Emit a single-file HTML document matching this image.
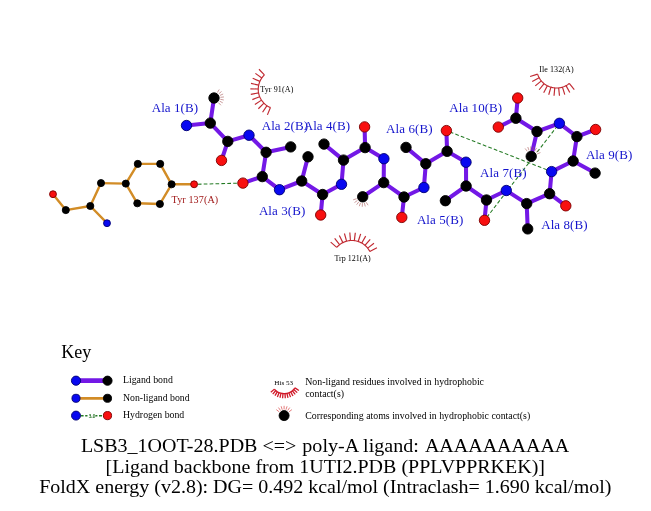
<!DOCTYPE html>
<html><head><meta charset="utf-8"><title>LigPlot</title>
<style>html,body{margin:0;padding:0;background:#fff;}svg{will-change:transform;}body{width:651px;height:511px;overflow:hidden;font-family:"Liberation Serif",serif;}</style>
</head><body>
<svg width="651" height="511" viewBox="0 0 651 511" style="display:block">
<rect width="651" height="511" fill="#fff"/>
<g font-family="'Liberation Serif', serif">
<line x1="53.0" y1="194.2" x2="65.8" y2="210.1" stroke="#d28c26" stroke-width="2.4" stroke-linecap="round" />
<line x1="65.8" y1="210.1" x2="90.3" y2="206.0" stroke="#d28c26" stroke-width="2.4" stroke-linecap="round" />
<line x1="90.3" y1="206.0" x2="107.0" y2="223.2" stroke="#d28c26" stroke-width="2.4" stroke-linecap="round" />
<line x1="90.3" y1="206.0" x2="101.0" y2="183.1" stroke="#d28c26" stroke-width="2.4" stroke-linecap="round" />
<line x1="101.0" y1="183.1" x2="125.8" y2="183.6" stroke="#d28c26" stroke-width="2.4" stroke-linecap="round" />
<line x1="125.8" y1="183.6" x2="137.8" y2="163.9" stroke="#d28c26" stroke-width="2.4" stroke-linecap="round" />
<line x1="137.8" y1="163.9" x2="160.2" y2="163.9" stroke="#d28c26" stroke-width="2.4" stroke-linecap="round" />
<line x1="160.2" y1="163.9" x2="171.6" y2="184.3" stroke="#d28c26" stroke-width="2.4" stroke-linecap="round" />
<line x1="171.6" y1="184.3" x2="159.9" y2="204.0" stroke="#d28c26" stroke-width="2.4" stroke-linecap="round" />
<line x1="159.9" y1="204.0" x2="137.3" y2="203.3" stroke="#d28c26" stroke-width="2.4" stroke-linecap="round" />
<line x1="137.3" y1="203.3" x2="125.8" y2="183.6" stroke="#d28c26" stroke-width="2.4" stroke-linecap="round" />
<line x1="171.6" y1="184.3" x2="194.1" y2="184.3" stroke="#d28c26" stroke-width="2.4" stroke-linecap="round" />
<line x1="186.5" y1="125.5" x2="210.3" y2="123.1" stroke="#7318e6" stroke-width="4.05" stroke-linecap="round" />
<line x1="210.3" y1="123.1" x2="214.0" y2="98.0" stroke="#7318e6" stroke-width="4.05" stroke-linecap="round" />
<line x1="210.3" y1="123.1" x2="227.8" y2="141.4" stroke="#7318e6" stroke-width="4.05" stroke-linecap="round" />
<line x1="227.8" y1="141.4" x2="221.5" y2="160.4" stroke="#7318e6" stroke-width="4.05" stroke-linecap="round" />
<line x1="227.8" y1="141.4" x2="249.0" y2="135.2" stroke="#7318e6" stroke-width="4.05" stroke-linecap="round" />
<line x1="249.0" y1="135.2" x2="266.1" y2="152.3" stroke="#7318e6" stroke-width="4.05" stroke-linecap="round" />
<line x1="266.1" y1="152.3" x2="290.7" y2="146.9" stroke="#7318e6" stroke-width="4.05" stroke-linecap="round" />
<line x1="266.1" y1="152.3" x2="262.3" y2="176.6" stroke="#7318e6" stroke-width="4.05" stroke-linecap="round" />
<line x1="262.3" y1="176.6" x2="242.9" y2="183.1" stroke="#7318e6" stroke-width="4.05" stroke-linecap="round" />
<line x1="262.3" y1="176.6" x2="279.5" y2="189.7" stroke="#7318e6" stroke-width="4.05" stroke-linecap="round" />
<line x1="279.5" y1="189.7" x2="301.7" y2="181.0" stroke="#7318e6" stroke-width="4.05" stroke-linecap="round" />
<line x1="301.7" y1="181.0" x2="308.0" y2="156.8" stroke="#7318e6" stroke-width="4.05" stroke-linecap="round" />
<line x1="301.7" y1="181.0" x2="322.6" y2="194.5" stroke="#7318e6" stroke-width="4.05" stroke-linecap="round" />
<line x1="322.6" y1="194.5" x2="320.7" y2="215.0" stroke="#7318e6" stroke-width="4.05" stroke-linecap="round" />
<line x1="322.6" y1="194.5" x2="341.5" y2="184.3" stroke="#7318e6" stroke-width="4.05" stroke-linecap="round" />
<line x1="341.5" y1="184.3" x2="343.5" y2="160.1" stroke="#7318e6" stroke-width="4.05" stroke-linecap="round" />
<line x1="343.5" y1="160.1" x2="324.0" y2="144.1" stroke="#7318e6" stroke-width="4.05" stroke-linecap="round" />
<line x1="343.5" y1="160.1" x2="365.1" y2="147.6" stroke="#7318e6" stroke-width="4.05" stroke-linecap="round" />
<line x1="365.1" y1="147.6" x2="364.6" y2="126.9" stroke="#7318e6" stroke-width="4.05" stroke-linecap="round" />
<line x1="365.1" y1="147.6" x2="383.9" y2="158.7" stroke="#7318e6" stroke-width="4.05" stroke-linecap="round" />
<line x1="383.9" y1="158.7" x2="383.7" y2="182.6" stroke="#7318e6" stroke-width="4.05" stroke-linecap="round" />
<line x1="383.7" y1="182.6" x2="362.7" y2="196.8" stroke="#7318e6" stroke-width="4.05" stroke-linecap="round" />
<line x1="383.7" y1="182.6" x2="404.0" y2="197.0" stroke="#7318e6" stroke-width="4.05" stroke-linecap="round" />
<line x1="404.0" y1="197.0" x2="401.8" y2="217.4" stroke="#7318e6" stroke-width="4.05" stroke-linecap="round" />
<line x1="404.0" y1="197.0" x2="423.9" y2="187.5" stroke="#7318e6" stroke-width="4.05" stroke-linecap="round" />
<line x1="423.9" y1="187.5" x2="425.8" y2="163.7" stroke="#7318e6" stroke-width="4.05" stroke-linecap="round" />
<line x1="425.8" y1="163.7" x2="406.0" y2="147.4" stroke="#7318e6" stroke-width="4.05" stroke-linecap="round" />
<line x1="425.8" y1="163.7" x2="447.1" y2="151.3" stroke="#7318e6" stroke-width="4.05" stroke-linecap="round" />
<line x1="447.1" y1="151.3" x2="446.4" y2="130.6" stroke="#7318e6" stroke-width="4.05" stroke-linecap="round" />
<line x1="447.1" y1="151.3" x2="466.0" y2="162.2" stroke="#7318e6" stroke-width="4.05" stroke-linecap="round" />
<line x1="466.0" y1="162.2" x2="466.1" y2="186.0" stroke="#7318e6" stroke-width="4.05" stroke-linecap="round" />
<line x1="466.1" y1="186.0" x2="445.4" y2="200.7" stroke="#7318e6" stroke-width="4.05" stroke-linecap="round" />
<line x1="466.1" y1="186.0" x2="486.5" y2="200.0" stroke="#7318e6" stroke-width="4.05" stroke-linecap="round" />
<line x1="486.5" y1="200.0" x2="484.5" y2="220.3" stroke="#7318e6" stroke-width="4.05" stroke-linecap="round" />
<line x1="486.5" y1="200.0" x2="506.3" y2="190.5" stroke="#7318e6" stroke-width="4.05" stroke-linecap="round" />
<line x1="506.3" y1="190.5" x2="526.7" y2="203.6" stroke="#7318e6" stroke-width="4.05" stroke-linecap="round" />
<line x1="526.7" y1="203.6" x2="527.7" y2="228.9" stroke="#7318e6" stroke-width="4.05" stroke-linecap="round" />
<line x1="526.7" y1="203.6" x2="549.6" y2="193.7" stroke="#7318e6" stroke-width="4.05" stroke-linecap="round" />
<line x1="549.6" y1="193.7" x2="565.8" y2="205.8" stroke="#7318e6" stroke-width="4.05" stroke-linecap="round" />
<line x1="549.6" y1="193.7" x2="551.6" y2="171.6" stroke="#7318e6" stroke-width="4.05" stroke-linecap="round" />
<line x1="551.6" y1="171.6" x2="573.1" y2="161.0" stroke="#7318e6" stroke-width="4.05" stroke-linecap="round" />
<line x1="573.1" y1="161.0" x2="595.1" y2="173.1" stroke="#7318e6" stroke-width="4.05" stroke-linecap="round" />
<line x1="573.1" y1="161.0" x2="576.9" y2="136.6" stroke="#7318e6" stroke-width="4.05" stroke-linecap="round" />
<line x1="576.9" y1="136.6" x2="595.6" y2="129.5" stroke="#7318e6" stroke-width="4.05" stroke-linecap="round" />
<line x1="576.9" y1="136.6" x2="559.4" y2="123.3" stroke="#7318e6" stroke-width="4.05" stroke-linecap="round" />
<line x1="559.4" y1="123.3" x2="537.0" y2="131.5" stroke="#7318e6" stroke-width="4.05" stroke-linecap="round" />
<line x1="537.0" y1="131.5" x2="531.2" y2="156.4" stroke="#7318e6" stroke-width="4.05" stroke-linecap="round" />
<line x1="537.0" y1="131.5" x2="515.9" y2="118.2" stroke="#7318e6" stroke-width="4.05" stroke-linecap="round" />
<line x1="515.9" y1="118.2" x2="498.3" y2="127.1" stroke="#7318e6" stroke-width="4.05" stroke-linecap="round" />
<line x1="515.9" y1="118.2" x2="517.7" y2="98.0" stroke="#7318e6" stroke-width="4.05" stroke-linecap="round" />
<line x1="194.1" y1="184.3" x2="242.9" y2="183.1" stroke="#237a23" stroke-width="1.05" stroke-linecap="round" stroke-dasharray="3.7 2.2" stroke-dashoffset="2.2" style="stroke-linecap:butt"/>
<line x1="446.4" y1="130.6" x2="551.6" y2="171.6" stroke="#237a23" stroke-width="1.05" stroke-linecap="round" stroke-dasharray="3.7 2.2" stroke-dashoffset="2.2" style="stroke-linecap:butt"/>
<line x1="484.5" y1="220.3" x2="559.4" y2="123.3" stroke="#237a23" stroke-width="1.05" stroke-linecap="round" stroke-dasharray="3.7 2.2" stroke-dashoffset="2.2" style="stroke-linecap:butt"/>
<line x1="217.34" y1="92.54" x2="219.22" y2="89.47" stroke="#a85a5a" stroke-width="0.6"/>
<line x1="218.83" y1="93.80" x2="221.55" y2="91.44" stroke="#a85a5a" stroke-width="0.6"/>
<line x1="219.87" y1="95.45" x2="223.17" y2="94.01" stroke="#a85a5a" stroke-width="0.6"/>
<line x1="220.36" y1="97.33" x2="223.95" y2="96.95" stroke="#a85a5a" stroke-width="0.6"/>
<line x1="220.27" y1="99.28" x2="223.80" y2="99.99" stroke="#a85a5a" stroke-width="0.6"/>
<line x1="219.60" y1="101.10" x2="222.75" y2="102.85" stroke="#a85a5a" stroke-width="0.6"/>
<line x1="218.41" y1="102.64" x2="220.88" y2="105.25" stroke="#a85a5a" stroke-width="0.6"/>
<line x1="366.14" y1="202.20" x2="368.07" y2="205.23" stroke="#a85a5a" stroke-width="0.6"/>
<line x1="364.36" y1="202.98" x2="365.29" y2="206.46" stroke="#a85a5a" stroke-width="0.6"/>
<line x1="362.42" y1="203.19" x2="362.26" y2="206.79" stroke="#a85a5a" stroke-width="0.6"/>
<line x1="360.51" y1="202.81" x2="359.28" y2="206.20" stroke="#a85a5a" stroke-width="0.6"/>
<line x1="358.80" y1="201.88" x2="356.61" y2="204.73" stroke="#a85a5a" stroke-width="0.6"/>
<line x1="357.46" y1="200.47" x2="354.51" y2="202.54" stroke="#a85a5a" stroke-width="0.6"/>
<line x1="356.60" y1="198.72" x2="353.16" y2="199.81" stroke="#a85a5a" stroke-width="0.6"/>
<line x1="527.30" y1="151.32" x2="525.11" y2="148.47" stroke="#a85a5a" stroke-width="0.6"/>
<line x1="529.01" y1="150.39" x2="527.78" y2="147.00" stroke="#a85a5a" stroke-width="0.6"/>
<line x1="530.92" y1="150.01" x2="530.76" y2="146.41" stroke="#a85a5a" stroke-width="0.6"/>
<line x1="532.86" y1="150.22" x2="533.79" y2="146.74" stroke="#a85a5a" stroke-width="0.6"/>
<line x1="534.64" y1="151.00" x2="536.57" y2="147.97" stroke="#a85a5a" stroke-width="0.6"/>
<line x1="536.10" y1="152.29" x2="538.86" y2="149.97" stroke="#a85a5a" stroke-width="0.6"/>
<line x1="537.11" y1="153.95" x2="540.44" y2="152.57" stroke="#a85a5a" stroke-width="0.6"/>
<circle cx="53.0" cy="194.2" r="3.45" fill="#f81010" stroke="#7a0000" stroke-width="0.9"/>
<circle cx="65.8" cy="210.1" r="3.55" fill="#000000" stroke="#000" stroke-width="0.9"/>
<circle cx="90.3" cy="206.0" r="3.55" fill="#000000" stroke="#000" stroke-width="0.9"/>
<circle cx="107.0" cy="223.2" r="3.45" fill="#0808f0" stroke="#000070" stroke-width="0.9"/>
<circle cx="101.0" cy="183.1" r="3.55" fill="#000000" stroke="#000" stroke-width="0.9"/>
<circle cx="125.8" cy="183.6" r="3.55" fill="#000000" stroke="#000" stroke-width="0.9"/>
<circle cx="137.8" cy="163.9" r="3.55" fill="#000000" stroke="#000" stroke-width="0.9"/>
<circle cx="160.2" cy="163.9" r="3.55" fill="#000000" stroke="#000" stroke-width="0.9"/>
<circle cx="171.6" cy="184.3" r="3.55" fill="#000000" stroke="#000" stroke-width="0.9"/>
<circle cx="159.9" cy="204.0" r="3.55" fill="#000000" stroke="#000" stroke-width="0.9"/>
<circle cx="137.3" cy="203.3" r="3.55" fill="#000000" stroke="#000" stroke-width="0.9"/>
<circle cx="194.1" cy="184.3" r="3.45" fill="#f81010" stroke="#7a0000" stroke-width="0.9"/>
<circle cx="186.5" cy="125.5" r="5.2" fill="#0808f0" stroke="#000070" stroke-width="0.9"/>
<circle cx="210.3" cy="123.1" r="5.2" fill="#000000" stroke="#000" stroke-width="0.9"/>
<circle cx="214.0" cy="98.0" r="5.2" fill="#000000" stroke="#000" stroke-width="0.9"/>
<circle cx="227.8" cy="141.4" r="5.2" fill="#000000" stroke="#000" stroke-width="0.9"/>
<circle cx="221.5" cy="160.4" r="5.2" fill="#f81010" stroke="#7a0000" stroke-width="0.9"/>
<circle cx="249.0" cy="135.2" r="5.2" fill="#0808f0" stroke="#000070" stroke-width="0.9"/>
<circle cx="266.1" cy="152.3" r="5.2" fill="#000000" stroke="#000" stroke-width="0.9"/>
<circle cx="290.7" cy="146.9" r="5.2" fill="#000000" stroke="#000" stroke-width="0.9"/>
<circle cx="262.3" cy="176.6" r="5.2" fill="#000000" stroke="#000" stroke-width="0.9"/>
<circle cx="242.9" cy="183.1" r="5.2" fill="#f81010" stroke="#7a0000" stroke-width="0.9"/>
<circle cx="279.5" cy="189.7" r="5.2" fill="#0808f0" stroke="#000070" stroke-width="0.9"/>
<circle cx="301.7" cy="181.0" r="5.2" fill="#000000" stroke="#000" stroke-width="0.9"/>
<circle cx="308.0" cy="156.8" r="5.2" fill="#000000" stroke="#000" stroke-width="0.9"/>
<circle cx="322.6" cy="194.5" r="5.2" fill="#000000" stroke="#000" stroke-width="0.9"/>
<circle cx="320.7" cy="215.0" r="5.2" fill="#f81010" stroke="#7a0000" stroke-width="0.9"/>
<circle cx="341.5" cy="184.3" r="5.2" fill="#0808f0" stroke="#000070" stroke-width="0.9"/>
<circle cx="343.5" cy="160.1" r="5.2" fill="#000000" stroke="#000" stroke-width="0.9"/>
<circle cx="324.0" cy="144.1" r="5.2" fill="#000000" stroke="#000" stroke-width="0.9"/>
<circle cx="365.1" cy="147.6" r="5.2" fill="#000000" stroke="#000" stroke-width="0.9"/>
<circle cx="364.6" cy="126.9" r="5.2" fill="#f81010" stroke="#7a0000" stroke-width="0.9"/>
<circle cx="383.9" cy="158.7" r="5.2" fill="#0808f0" stroke="#000070" stroke-width="0.9"/>
<circle cx="383.7" cy="182.6" r="5.2" fill="#000000" stroke="#000" stroke-width="0.9"/>
<circle cx="362.7" cy="196.8" r="5.2" fill="#000000" stroke="#000" stroke-width="0.9"/>
<circle cx="404.0" cy="197.0" r="5.2" fill="#000000" stroke="#000" stroke-width="0.9"/>
<circle cx="401.8" cy="217.4" r="5.2" fill="#f81010" stroke="#7a0000" stroke-width="0.9"/>
<circle cx="423.9" cy="187.5" r="5.2" fill="#0808f0" stroke="#000070" stroke-width="0.9"/>
<circle cx="425.8" cy="163.7" r="5.2" fill="#000000" stroke="#000" stroke-width="0.9"/>
<circle cx="406.0" cy="147.4" r="5.2" fill="#000000" stroke="#000" stroke-width="0.9"/>
<circle cx="447.1" cy="151.3" r="5.2" fill="#000000" stroke="#000" stroke-width="0.9"/>
<circle cx="446.4" cy="130.6" r="5.2" fill="#f81010" stroke="#7a0000" stroke-width="0.9"/>
<circle cx="466.0" cy="162.2" r="5.2" fill="#0808f0" stroke="#000070" stroke-width="0.9"/>
<circle cx="466.1" cy="186.0" r="5.2" fill="#000000" stroke="#000" stroke-width="0.9"/>
<circle cx="445.4" cy="200.7" r="5.2" fill="#000000" stroke="#000" stroke-width="0.9"/>
<circle cx="486.5" cy="200.0" r="5.2" fill="#000000" stroke="#000" stroke-width="0.9"/>
<circle cx="484.5" cy="220.3" r="5.2" fill="#f81010" stroke="#7a0000" stroke-width="0.9"/>
<circle cx="506.3" cy="190.5" r="5.2" fill="#0808f0" stroke="#000070" stroke-width="0.9"/>
<circle cx="526.7" cy="203.6" r="5.2" fill="#000000" stroke="#000" stroke-width="0.9"/>
<circle cx="527.7" cy="228.9" r="5.2" fill="#000000" stroke="#000" stroke-width="0.9"/>
<circle cx="549.6" cy="193.7" r="5.2" fill="#000000" stroke="#000" stroke-width="0.9"/>
<circle cx="565.8" cy="205.8" r="5.2" fill="#f81010" stroke="#7a0000" stroke-width="0.9"/>
<circle cx="551.6" cy="171.6" r="5.2" fill="#0808f0" stroke="#000070" stroke-width="0.9"/>
<circle cx="573.1" cy="161.0" r="5.2" fill="#000000" stroke="#000" stroke-width="0.9"/>
<circle cx="595.1" cy="173.1" r="5.2" fill="#000000" stroke="#000" stroke-width="0.9"/>
<circle cx="576.9" cy="136.6" r="5.2" fill="#000000" stroke="#000" stroke-width="0.9"/>
<circle cx="595.6" cy="129.5" r="5.2" fill="#f81010" stroke="#7a0000" stroke-width="0.9"/>
<circle cx="559.4" cy="123.3" r="5.2" fill="#0808f0" stroke="#000070" stroke-width="0.9"/>
<circle cx="537.0" cy="131.5" r="5.2" fill="#000000" stroke="#000" stroke-width="0.9"/>
<circle cx="531.2" cy="156.4" r="5.2" fill="#000000" stroke="#000" stroke-width="0.9"/>
<circle cx="515.9" cy="118.2" r="5.2" fill="#000000" stroke="#000" stroke-width="0.9"/>
<circle cx="498.3" cy="127.1" r="5.2" fill="#f81010" stroke="#7a0000" stroke-width="0.9"/>
<circle cx="517.7" cy="98.0" r="5.2" fill="#f81010" stroke="#7a0000" stroke-width="0.9"/>
<path d="M270.44,107.55 L269.54,107.15 L268.67,106.71 L267.81,106.22 L266.98,105.69 L266.18,105.12 L265.41,104.52 L264.67,103.87 L263.96,103.19 L263.29,102.48 L262.65,101.73 L262.05,100.95 L261.49,100.14 L260.97,99.31 L260.50,98.45 L260.06,97.57 L259.68,96.67 L259.33,95.75 L259.03,94.81 L258.78,93.86 L258.58,92.90 L258.43,91.93 L258.32,90.95 L258.26,89.97 L258.25,88.99 L258.29,88.01 L258.38,87.03 L258.52,86.06 L258.70,85.09 L258.94,84.14 L259.22,83.20 L259.54,82.27 L259.92,81.36 L260.33,80.47 L260.79,79.60 L261.30,78.76 L261.84,77.94 L262.43,77.15 L263.05,76.39 L263.71,75.67 L264.40,74.97" fill="none" stroke="#c02830" stroke-width="1.15"/>
<line x1="270.44" y1="107.55" x2="267.42" y2="114.85" stroke="#c02830" stroke-width="1.15"/>
<line x1="266.98" y1="105.69" x2="262.58" y2="112.25" stroke="#c02830" stroke-width="1.15"/>
<line x1="263.96" y1="103.19" x2="258.35" y2="108.75" stroke="#c02830" stroke-width="1.15"/>
<line x1="261.49" y1="100.14" x2="254.89" y2="104.48" stroke="#c02830" stroke-width="1.15"/>
<line x1="259.68" y1="96.67" x2="252.35" y2="99.61" stroke="#c02830" stroke-width="1.15"/>
<line x1="258.58" y1="92.90" x2="250.81" y2="94.34" stroke="#c02830" stroke-width="1.15"/>
<line x1="258.25" y1="88.99" x2="250.35" y2="88.87" stroke="#c02830" stroke-width="1.15"/>
<line x1="258.70" y1="85.09" x2="250.98" y2="83.41" stroke="#c02830" stroke-width="1.15"/>
<line x1="259.92" y1="81.36" x2="252.68" y2="78.19" stroke="#c02830" stroke-width="1.15"/>
<line x1="261.84" y1="77.94" x2="255.38" y2="73.40" stroke="#c02830" stroke-width="1.15"/>
<line x1="264.40" y1="74.97" x2="258.97" y2="69.24" stroke="#c02830" stroke-width="1.15"/>
<path d="M336.73,247.41 L337.39,246.69 L338.09,246.00 L338.82,245.34 L339.58,244.72 L340.37,244.14 L341.19,243.59 L342.03,243.09 L342.90,242.63 L343.79,242.21 L344.70,241.84 L345.62,241.51 L346.56,241.22 L347.52,240.98 L348.48,240.79 L349.45,240.65 L350.43,240.55 L351.41,240.51 L352.39,240.51 L353.37,240.55 L354.35,240.65 L355.32,240.79 L356.28,240.98 L357.24,241.22 L358.18,241.51 L359.10,241.84 L360.01,242.21 L360.90,242.63 L361.77,243.09 L362.61,243.59 L363.43,244.14 L364.22,244.72 L364.98,245.34 L365.71,246.00 L366.41,246.69 L367.07,247.41 L367.70,248.17 L368.28,248.96 L368.83,249.77 L369.34,250.61 L369.81,251.47" fill="none" stroke="#c02830" stroke-width="1.15"/>
<line x1="336.73" y1="247.41" x2="330.69" y2="242.16" stroke="#c02830" stroke-width="1.15"/>
<line x1="339.58" y1="244.72" x2="334.68" y2="238.40" stroke="#c02830" stroke-width="1.15"/>
<line x1="342.90" y1="242.63" x2="339.32" y2="235.47" stroke="#c02830" stroke-width="1.15"/>
<line x1="346.56" y1="241.22" x2="344.44" y2="233.51" stroke="#c02830" stroke-width="1.15"/>
<line x1="350.43" y1="240.55" x2="349.84" y2="232.58" stroke="#c02830" stroke-width="1.15"/>
<line x1="354.35" y1="240.65" x2="355.32" y2="232.71" stroke="#c02830" stroke-width="1.15"/>
<line x1="358.18" y1="241.51" x2="360.68" y2="233.91" stroke="#c02830" stroke-width="1.15"/>
<line x1="361.77" y1="243.09" x2="365.69" y2="236.12" stroke="#c02830" stroke-width="1.15"/>
<line x1="364.98" y1="245.34" x2="370.19" y2="239.26" stroke="#c02830" stroke-width="1.15"/>
<line x1="367.70" y1="248.17" x2="373.98" y2="243.22" stroke="#c02830" stroke-width="1.15"/>
<line x1="369.81" y1="251.47" x2="376.94" y2="247.84" stroke="#c02830" stroke-width="1.15"/>
<path d="M569.26,83.46 L568.49,84.06 L567.70,84.62 L566.88,85.14 L566.03,85.62 L565.17,86.06 L564.28,86.46 L563.37,86.81 L562.45,87.12 L561.52,87.38 L560.57,87.60 L559.61,87.77 L558.65,87.89 L557.68,87.97 L556.70,88.00 L555.73,87.98 L554.76,87.91 L553.80,87.80 L552.84,87.64 L551.89,87.43 L550.95,87.18 L550.02,86.88 L549.11,86.54 L548.22,86.15 L547.35,85.72 L546.50,85.25 L545.67,84.73 L544.87,84.18 L544.10,83.59 L543.36,82.96 L542.65,82.29 L541.98,81.60 L541.33,80.86 L540.73,80.10 L540.16,79.31 L539.63,78.50 L539.14,77.66 L538.70,76.79 L538.30,75.91 L537.94,75.00 L537.62,74.08" fill="none" stroke="#c02830" stroke-width="1.15"/>
<line x1="569.26" y1="83.46" x2="574.28" y2="89.55" stroke="#c02830" stroke-width="1.15"/>
<line x1="566.03" y1="85.62" x2="569.78" y2="92.58" stroke="#c02830" stroke-width="1.15"/>
<line x1="562.45" y1="87.12" x2="564.77" y2="94.67" stroke="#c02830" stroke-width="1.15"/>
<line x1="558.65" y1="87.89" x2="559.46" y2="95.75" stroke="#c02830" stroke-width="1.15"/>
<line x1="554.76" y1="87.91" x2="554.03" y2="95.78" stroke="#c02830" stroke-width="1.15"/>
<line x1="550.95" y1="87.18" x2="548.70" y2="94.76" stroke="#c02830" stroke-width="1.15"/>
<line x1="547.35" y1="85.72" x2="543.68" y2="92.71" stroke="#c02830" stroke-width="1.15"/>
<line x1="544.10" y1="83.59" x2="539.14" y2="89.74" stroke="#c02830" stroke-width="1.15"/>
<line x1="541.33" y1="80.86" x2="535.27" y2="85.93" stroke="#c02830" stroke-width="1.15"/>
<line x1="539.14" y1="77.66" x2="532.22" y2="81.45" stroke="#c02830" stroke-width="1.15"/>
<line x1="537.62" y1="74.08" x2="530.09" y2="76.46" stroke="#c02830" stroke-width="1.15"/>
<text x="151.7" y="111.7" font-size="13" fill="#1414cc" text-anchor="start" textLength="46.4" lengthAdjust="spacing">Ala 1(B)</text>
<text x="261.7" y="130.2" font-size="13" fill="#1414cc" text-anchor="start" textLength="46.4" lengthAdjust="spacing">Ala 2(B)</text>
<text x="258.9" y="215.4" font-size="13" fill="#1414cc" text-anchor="start" textLength="46.4" lengthAdjust="spacing">Ala 3(B)</text>
<text x="303.7" y="130.2" font-size="13" fill="#1414cc" text-anchor="start" textLength="46.4" lengthAdjust="spacing">Ala 4(B)</text>
<text x="416.9" y="223.7" font-size="13" fill="#1414cc" text-anchor="start" textLength="46.4" lengthAdjust="spacing">Ala 5(B)</text>
<text x="386.1" y="133.2" font-size="13" fill="#1414cc" text-anchor="start" textLength="46.4" lengthAdjust="spacing">Ala 6(B)</text>
<text x="480.1" y="176.5" font-size="13" fill="#1414cc" text-anchor="start" textLength="46.4" lengthAdjust="spacing">Ala 7(B)</text>
<text x="541.2" y="228.6" font-size="13" fill="#1414cc" text-anchor="start" textLength="46.4" lengthAdjust="spacing">Ala 8(B)</text>
<text x="585.9" y="158.7" font-size="13" fill="#1414cc" text-anchor="start" textLength="46.4" lengthAdjust="spacing">Ala 9(B)</text>
<text x="449.3" y="112.4" font-size="13" fill="#1414cc" text-anchor="start" textLength="52.9" lengthAdjust="spacing">Ala 10(B)</text>
<text x="171.6" y="202.9" font-size="10.1" fill="#a01818" text-anchor="start" textLength="46.6" lengthAdjust="spacing">Tyr 137(A)</text>
<text x="260.2" y="91.8" font-size="8" fill="#000" text-anchor="start" textLength="33.2" lengthAdjust="spacing">Tyr 91(A)</text>
<text x="334.4" y="260.6" font-size="8" fill="#000" text-anchor="start" >Trp 121(A)</text>
<text x="539.2" y="72.0" font-size="8" fill="#000" text-anchor="start" textLength="34.4" lengthAdjust="spacing">Ile 132(A)</text>
<text x="61.3" y="358.0" font-size="18" fill="#000" text-anchor="start" >Key</text>
<line x1="76.0" y1="380.7" x2="107.5" y2="380.7" stroke="#7318e6" stroke-width="4.8" stroke-linecap="round" />
<circle cx="76.0" cy="380.7" r="4.6" fill="#0808f0" stroke="#000070" stroke-width="0.9"/>
<circle cx="107.5" cy="380.7" r="4.6" fill="#000" stroke="#000" stroke-width="0.9"/>
<line x1="76.0" y1="398.3" x2="107.5" y2="398.3" stroke="#d28c26" stroke-width="2.7" stroke-linecap="round" />
<circle cx="76.0" cy="398.3" r="4.05" fill="#0808f0" stroke="#000070" stroke-width="0.9"/>
<circle cx="107.5" cy="398.3" r="4.05" fill="#000" stroke="#000" stroke-width="0.9"/>
<line x1="76.0" y1="415.7" x2="107.5" y2="415.7" stroke="#237a23" stroke-width="1.4" stroke-linecap="round" stroke-dasharray="3 1.6" style="stroke-linecap:butt"/>
<rect x="87.5" y="412.5" width="8" height="6" fill="#fff"/>
<text x="92.0" y="417.5" font-size="5.2" fill="#1c6c1c" text-anchor="middle" stroke="#1c6c1c" stroke-width="0.15">3.0</text>
<circle cx="76.0" cy="415.6" r="4.5" fill="#0808f0" stroke="#000070" stroke-width="0.9"/>
<circle cx="107.5" cy="415.6" r="4.1" fill="#f81010" stroke="#7a0000" stroke-width="0.9"/>
<text x="123.0" y="383.2" font-size="9.8" fill="#000" text-anchor="start" >Ligand bond</text>
<text x="123.0" y="400.8" font-size="9.8" fill="#000" text-anchor="start" >Non-ligand bond</text>
<text x="123.0" y="418.0" font-size="9.8" fill="#000" text-anchor="start" >Hydrogen bond</text>
<text x="274.3" y="384.7" font-size="6.6" fill="#000" text-anchor="start" textLength="18.8" lengthAdjust="spacingAndGlyphs">His 53</text>
<path d="M294.98,387.87 L294.63,388.36 L294.27,388.83 L293.88,389.28 L293.47,389.71 L293.05,390.13 L292.60,390.52 L292.14,390.90 L291.66,391.25 L291.16,391.58 L290.65,391.89 L290.13,392.17 L289.59,392.43 L289.04,392.66 L288.49,392.87 L287.92,393.06 L287.34,393.21 L286.76,393.34 L286.18,393.45 L285.59,393.53 L284.99,393.58 L284.40,393.60 L283.80,393.59 L283.21,393.56 L282.62,393.50 L282.03,393.42 L281.44,393.30 L280.86,393.16 L280.29,393.00 L279.73,392.81 L279.17,392.59 L278.63,392.35 L278.10,392.08 L277.58,391.79 L277.07,391.47 L276.58,391.13 L276.11,390.77 L275.65,390.39 L275.21,389.99 L274.79,389.57 L274.39,389.13" fill="none" stroke="#d01828" stroke-width="1.4"/>
<line x1="294.98" y1="387.87" x2="298.87" y2="390.50" stroke="#d01828" stroke-width="1.3"/>
<line x1="293.75" y1="389.42" x2="297.20" y2="392.61" stroke="#d01828" stroke-width="1.3"/>
<line x1="292.29" y1="390.77" x2="295.22" y2="394.45" stroke="#d01828" stroke-width="1.3"/>
<line x1="290.65" y1="391.89" x2="292.98" y2="395.97" stroke="#d01828" stroke-width="1.3"/>
<line x1="288.86" y1="392.74" x2="290.54" y2="397.12" stroke="#d01828" stroke-width="1.3"/>
<line x1="286.96" y1="393.30" x2="287.96" y2="397.90" stroke="#d01828" stroke-width="1.3"/>
<line x1="284.99" y1="393.58" x2="285.28" y2="398.27" stroke="#d01828" stroke-width="1.3"/>
<line x1="283.01" y1="393.55" x2="282.58" y2="398.23" stroke="#d01828" stroke-width="1.3"/>
<line x1="281.06" y1="393.21" x2="279.92" y2="397.77" stroke="#d01828" stroke-width="1.3"/>
<line x1="279.17" y1="392.59" x2="277.36" y2="396.92" stroke="#d01828" stroke-width="1.3"/>
<line x1="277.41" y1="391.68" x2="274.95" y2="395.69" stroke="#d01828" stroke-width="1.3"/>
<line x1="275.80" y1="390.52" x2="272.76" y2="394.11" stroke="#d01828" stroke-width="1.3"/>
<line x1="274.39" y1="389.13" x2="270.84" y2="392.21" stroke="#d01828" stroke-width="1.3"/>
<line x1="279.18" y1="411.83" x2="276.33" y2="409.63" stroke="#d84848" stroke-width="0.7"/>
<line x1="280.54" y1="410.52" x2="278.48" y2="407.57" stroke="#d84848" stroke-width="0.7"/>
<line x1="282.24" y1="409.69" x2="281.15" y2="406.25" stroke="#d84848" stroke-width="0.7"/>
<line x1="284.10" y1="409.40" x2="284.10" y2="405.80" stroke="#d84848" stroke-width="0.7"/>
<line x1="285.96" y1="409.69" x2="287.05" y2="406.25" stroke="#d84848" stroke-width="0.7"/>
<line x1="287.66" y1="410.52" x2="289.72" y2="407.57" stroke="#d84848" stroke-width="0.7"/>
<line x1="289.02" y1="411.83" x2="291.87" y2="409.63" stroke="#d84848" stroke-width="0.7"/>
<circle cx="284.1" cy="415.6" r="5" fill="#000" stroke="#000" stroke-width="0.9"/>
<text x="305.2" y="385.2" font-size="9.85" fill="#000" text-anchor="start" >Non-ligand residues involved in hydrophobic</text>
<text x="305.2" y="396.7" font-size="9.85" fill="#000" text-anchor="start" >contact(s)</text>
<text x="305.2" y="418.6" font-size="9.85" fill="#000" text-anchor="start" >Corresponding atoms involved in hydrophobic contact(s)</text>
<text y="452.4" font-size="19.2" fill="#000"><tspan x="80.9" textLength="215.4" lengthAdjust="spacingAndGlyphs">LSB3_1OOT-28.PDB &lt;=&gt;</tspan> <tspan x="302.3" textLength="116.6" lengthAdjust="spacingAndGlyphs">poly-A ligand:</tspan> <tspan x="424.9" textLength="144.4" lengthAdjust="spacingAndGlyphs">AAAAAAAAAA</tspan></text>
<text x="105.6" y="472.6" font-size="19.2" fill="#000" text-anchor="start" textLength="439.4" lengthAdjust="spacingAndGlyphs">[Ligand backbone from 1UTI2.PDB (PPLVPPRKEK)]</text>
<text x="39.2" y="492.7" font-size="19.2" fill="#000" text-anchor="start" textLength="572.2" lengthAdjust="spacingAndGlyphs">FoldX energy (v2.8): DG= 0.492 kcal/mol (Intraclash= 1.690 kcal/mol)</text>
</g></svg>
</body></html>
